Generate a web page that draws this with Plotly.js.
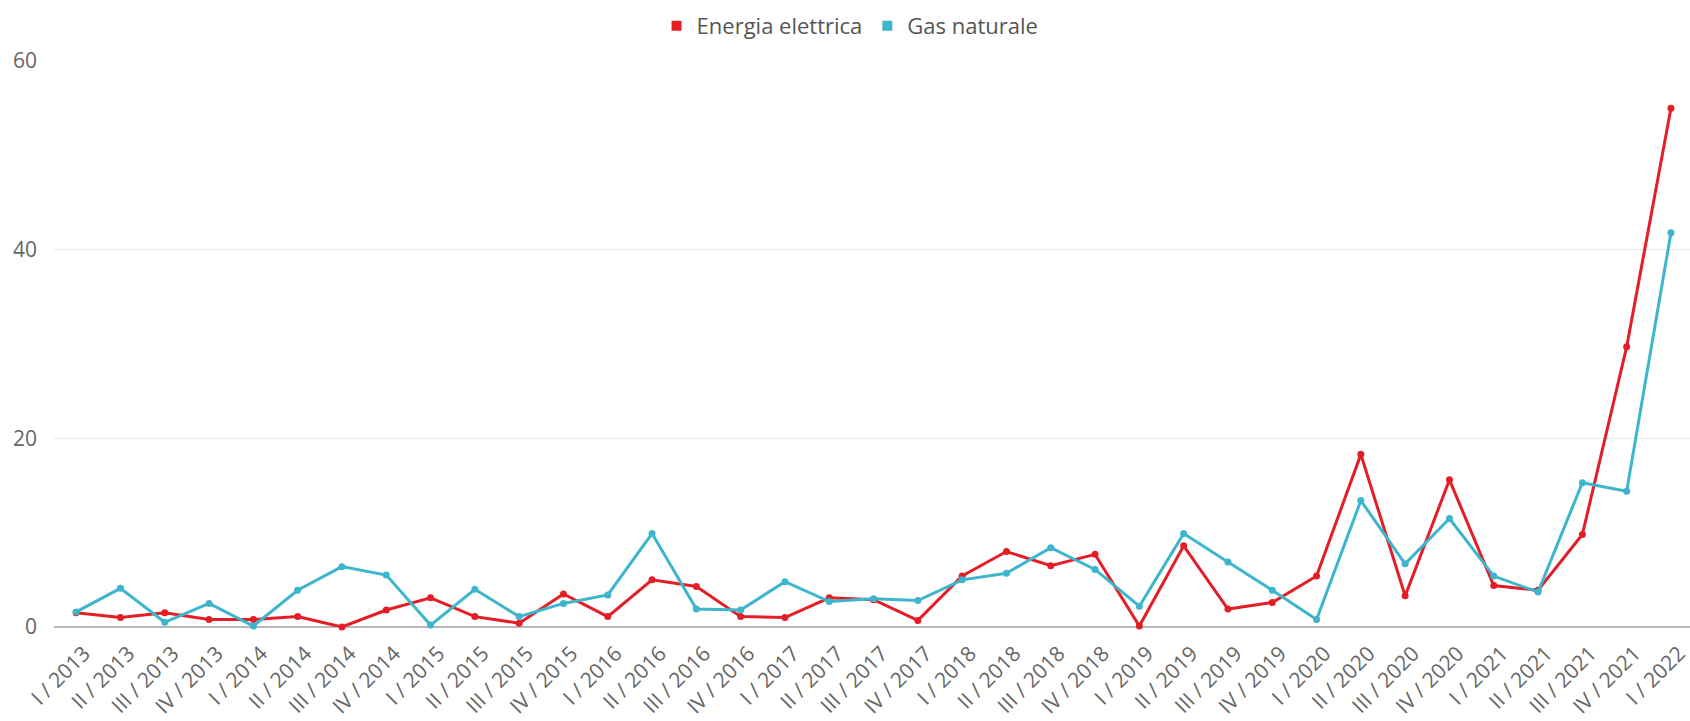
<!DOCTYPE html>
<html>
<head>
<meta charset="utf-8">
<script src="https://cdn.plot.ly/plotly-3.0.1.min.js"></script>
<style>
  html, body { margin: 0; padding: 0; background: #fff; }
  #chart { width: 1690px; height: 721px; }
</style>
</head>
<body>
<div id="chart"></div>
<script>
const quarters = [
  "I / 2013", "II / 2013", "III / 2013", "IV / 2013",
  "I / 2014", "II / 2014", "III / 2014", "IV / 2014",
  "I / 2015", "II / 2015", "III / 2015", "IV / 2015",
  "I / 2016", "II / 2016", "III / 2016", "IV / 2016",
  "I / 2017", "II / 2017", "III / 2017", "IV / 2017",
  "I / 2018", "II / 2018", "III / 2018", "IV / 2018",
  "I / 2019", "II / 2019", "III / 2019", "IV / 2019",
  "I / 2020", "II / 2020", "III / 2020", "IV / 2020",
  "I / 2021", "II / 2021", "III / 2021", "IV / 2021",
  "I / 2022"
];

const energiaElettrica = [
  1.5, 1.0, 1.5, 0.8,
  0.8, 1.1, 0.0, 1.8,
  3.1, 1.1, 0.4, 3.5,
  1.1, 5.0, 4.3, 1.1,
  1.0, 3.1, 2.9, 0.7,
  5.4, 8.0, 6.5, 7.7,
  0.1, 8.6, 1.9, 2.6,
  5.4, 18.3, 3.3, 15.6,
  4.4, 3.9, 9.8, 29.7,
  55.0
];

const gasNaturale = [
  1.6, 4.1, 0.5, 2.5,
  0.1, 3.9, 6.4, 5.5,
  0.2, 4.0, 1.1, 2.5,
  3.4, 9.9, 1.9, 1.8,
  4.8, 2.7, 3.0, 2.8,
  5.0, 5.7, 8.4, 6.1,
  2.2, 9.9, 6.9, 3.9,
  0.8, 13.4, 6.7, 11.5,
  5.4, 3.7, 15.3, 14.4,
  41.8
];

const yTicks = [0, 20, 40, 60];

const seriesNames = ["Energia elettrica", "Gas naturale"];
const seriesColors = ["#e41e26", "#3db5cc"];
const seriesValues = [energiaElettrica, gasNaturale];

const traces = [];
seriesValues.forEach((vals, k) => {
  traces.push({
    type: "scatter",
    mode: "lines+markers",
    x: quarters,
    y: vals,
    name: seriesNames[k],
    showlegend: false,
    cliponaxis: false,
    line: { color: seriesColors[k], width: 3 },
    marker: { color: seriesColors[k], size: 7 }
  });
});
// legend-only entries with square swatches
seriesValues.forEach((vals, k) => {
  traces.push({
    type: "scatter",
    mode: "markers",
    x: [null],
    y: [null],
    name: seriesNames[k],
    showlegend: true,
    marker: { color: seriesColors[k], size: 10, symbol: "square" }
  });
});

const layout = {
  width: 1690,
  height: 721,
  margin: { l: 54, r: 0, t: 61, b: 94 },
  paper_bgcolor: "#ffffff",
  plot_bgcolor: "#ffffff",
  font: { family: "Open Sans, sans-serif", size: 20, color: "#666666" },
  showlegend: true,
  legend: {
    orientation: "h",
    x: 0.503,
    xanchor: "center",
    xref: "container",
    y: 0.993,
    yanchor: "top",
    yref: "container",
    font: { size: 22, color: "#555555" },
    itemwidth: 30,
    tracegroupgap: 0
  },
  xaxis: {
    type: "category",
    categoryorder: "array",
    categoryarray: quarters,
    range: [-0.5, 36.43],
    tickangle: -45,
    showgrid: false,
    showline: false,
    zeroline: false,
    ticks: "",
    ticklabelshift: 8,
    ticklabelstandoff: 9,
    tickfont: { size: 21, color: "#666666" },
    fixedrange: true
  },
  yaxis: {
    range: [0, 60],
    tickvals: yTicks,
    ticktext: yTicks.map(String),
    showgrid: true,
    gridcolor: "#e8e8e8",
    gridwidth: 1.5,
    zeroline: true,
    zerolinecolor: "#b8b8b8",
    zerolinewidth: 1.5,
    showline: false,
    ticks: "",
    ticklabelstandoff: 16,
    tickfont: { size: 21, color: "#666666" },
    fixedrange: true
  }
};

Plotly.newPlot("chart", traces, layout, { displayModeBar: false, staticPlot: true });
</script>
</body>
</html>
